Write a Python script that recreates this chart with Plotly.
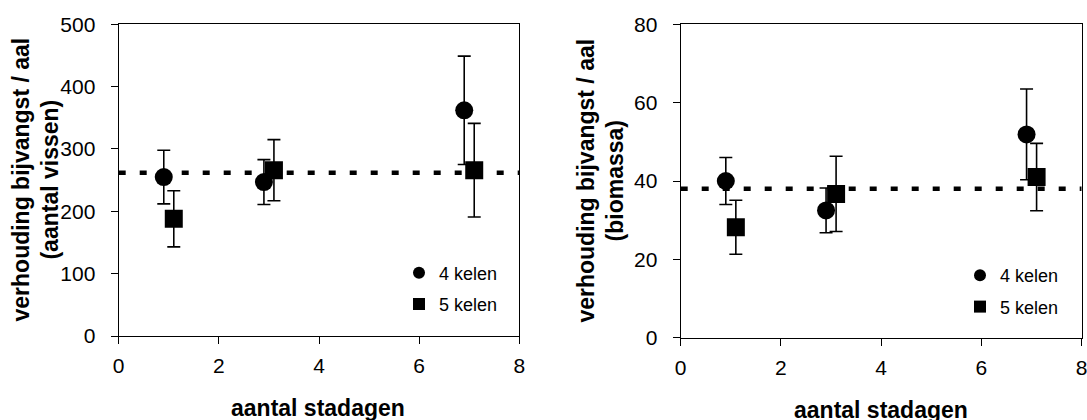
import plotly.graph_objects as go

# ---- data ----
stadagen = [1, 3, 7]
series_names = ["4 kelen", "5 kelen"]

# left panel: verhouding bijvangst / aal (aantal vissen)
left_4k = [255, 247, 362]
left_4k_err = [43, 36, 87]
left_5k = [188, 266, 266]
left_5k_err = [45, 49, 75]
left_mean = 262

# right panel: verhouding bijvangst / aal (biomassa)
right_4k = [40, 32.5, 51.9]
right_4k_err = [6.0, 5.7, 11.6]
right_5k = [28.2, 36.7, 41.0]
right_5k_err = [6.9, 9.6, 8.6]
right_mean = 38

x_ticks = [0, 2, 4, 6, 8]
left_yticks = [0, 100, 200, 300, 400, 500]
right_yticks = [0, 20, 40, 60, 80]

# ---- styling ----
W, H = 1087, 420
FONT = "Arial, Liberation Sans, sans-serif"
dodge = 0.1
x4 = [s - dodge for s in stadagen]
x5 = [s + dodge for s in stadagen]


def px_x(p):
    return p / W


def px_y(p):
    return 1 - p / H


fig = go.Figure()


def add_panel(xa, ya, leg, y4, e4, y5, e5):
    eb = dict(type="data", visible=True, color="black", thickness=1.6, width=6.5)
    fig.add_trace(go.Scatter(
        x=x4, y=y4, mode="markers", name=series_names[0],
        marker=dict(symbol="circle", size=18, color="black"),
        error_y=dict(array=e4, **eb),
        xaxis=xa, yaxis=ya, legend=leg, legendgroup=leg + "a",
    ))
    fig.add_trace(go.Scatter(
        x=x5, y=y5, mode="markers", name=series_names[1],
        marker=dict(symbol="square", size=18, color="black"),
        error_y=dict(array=e5, **eb),
        xaxis=xa, yaxis=ya, legend=leg, legendgroup=leg + "b",
    ))


add_panel("x", "y", "legend", left_4k, left_4k_err, left_5k, left_5k_err)
add_panel("x2", "y2", "legend2", right_4k, right_4k_err, right_5k, right_5k_err)

# dashed mean lines
fig.add_shape(type="line", xref="x", yref="y", x0=x_ticks[0], x1=x_ticks[-1],
              y0=left_mean, y1=left_mean,
              line=dict(color="black", width=4.5, dash="7px,14px"))
fig.add_shape(type="line", xref="x2", yref="y2", x0=x_ticks[0], x1=x_ticks[-1],
              y0=right_mean, y1=right_mean,
              line=dict(color="black", width=4.5, dash="7px,14px"))

axis_common = dict(
    showgrid=False, zeroline=False, showline=True, linecolor="black", linewidth=1.3,
    mirror=True, ticks="outside", ticklen=7, tickwidth=1.3, tickcolor="black",
    tickfont=dict(family=FONT, size=21, color="black"), automargin=False,
    ticklabeloverflow="allow",
)

fig.update_layout(
    width=W, height=H, margin=dict(l=0, r=0, t=0, b=0),
    paper_bgcolor="white", plot_bgcolor="white",
    font=dict(family=FONT, color="black"),
    xaxis=dict(domain=[px_x(118.7), px_x(519.3)], range=[0, 8], tickvals=x_ticks,
               anchor="y", ticklabelstandoff=4, **axis_common),
    yaxis=dict(domain=[px_y(336), px_y(24.3)], range=[0, 500], tickvals=left_yticks,
               anchor="x", ticklabelstandoff=11, **axis_common),
    xaxis2=dict(domain=[px_x(680.7), px_x(1081.7)], range=[0, 8], tickvals=x_ticks,
                anchor="y2", ticklabelstandoff=4, **axis_common),
    yaxis2=dict(domain=[px_y(337.7), px_y(24.3)], range=[0, 80], tickvals=right_yticks,
                anchor="x2", ticklabelstandoff=11, **axis_common),
    legend=dict(x=px_x(399), y=px_y(254.5), xanchor="left", yanchor="top",
                bgcolor="rgba(0,0,0,0)", borderwidth=0, itemsizing="constant",
                tracegroupgap=5, font=dict(family=FONT, size=18, color="black")),
    legend2=dict(x=px_x(960), y=px_y(257), xanchor="left", yanchor="top",
                 bgcolor="rgba(0,0,0,0)", borderwidth=0, itemsizing="constant",
                 tracegroupgap=5, font=dict(family=FONT, size=18, color="black")),
    showlegend=True,
)

title_font = dict(family=FONT, size=23, color="black", weight="bold")
annotations = [
    dict(text="verhouding bijvangst / aal<br>(aantal vissen)", textangle=-90,
         x=px_x(35.5), y=px_y(180), xanchor="center", yanchor="middle"),
    dict(text="verhouding bijvangst / aal<br>(biomassa)", textangle=-90,
         x=px_x(600.6), y=px_y(181), xanchor="center", yanchor="middle"),
    dict(text="aantal stadagen", x=px_x(318), y=px_y(408), xanchor="center", yanchor="middle"),
    dict(text="aantal stadagen", x=px_x(880.5), y=px_y(410), xanchor="center", yanchor="middle"),
]
for a in annotations:
    fig.add_annotation(xref="paper", yref="paper", showarrow=False, font=title_font, **a)

fig.write_html("out.html")
